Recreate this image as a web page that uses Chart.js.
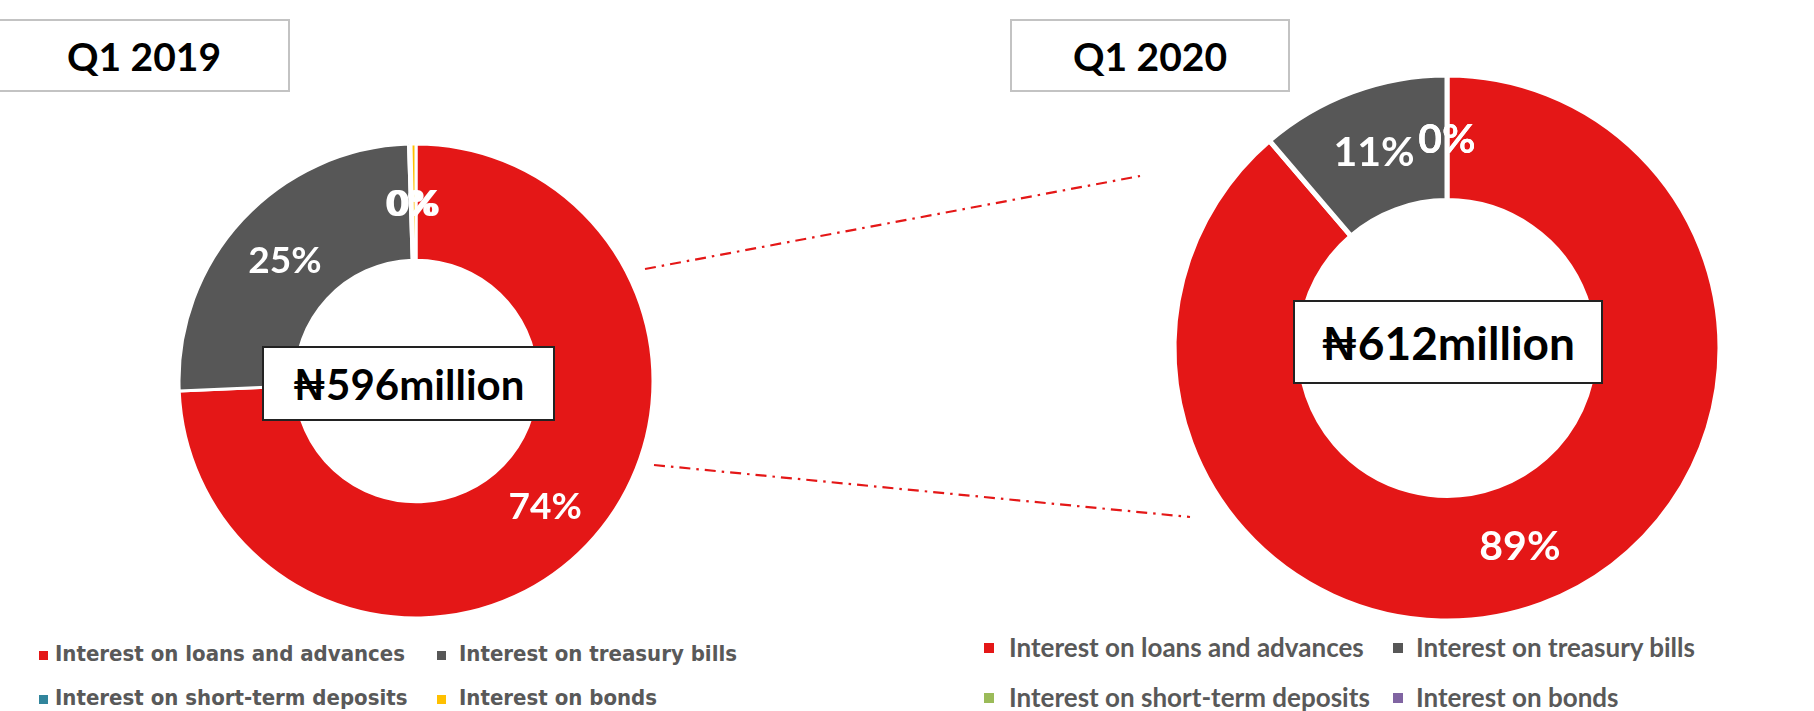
<!DOCTYPE html>
<html>
<head>
<meta charset="utf-8">
<title>Interest income breakdown, Q1 2019 vs Q1 2020</title>
<script src="https://cdn.jsdelivr.net/npm/chart.js@4.4.1/dist/chart.umd.min.js"></script>
<style>
  html, body { margin: 0; padding: 0; background: #ffffff; }
  body { width: 1814px; height: 711px; position: relative; overflow: hidden; font-family: Lato, "DejaVu Sans", sans-serif; }
  canvas { position: absolute; }
  .period { position: absolute; box-sizing: border-box; border: 2px solid #c3c3c3; background: #fff;
            display: flex; align-items: center; justify-content: center; color: #000;
            font: 700 39px Lato, "DejaVu Sans", sans-serif; }
  .total { position: absolute; box-sizing: border-box; border: 2px solid #222; background: #fff; z-index: 3;
           display: flex; align-items: center; justify-content: center; color: #000; font-weight: 700;
           font-family: Lato, "DejaVu Sans", sans-serif; }
  .lg-box { position: absolute; display: block; }
  .lg-text { position: absolute; color: #595959; font-weight: 700; white-space: nowrap; }
  svg.links { position: absolute; left: 0; top: 0; z-index: 2; }
</style>
</head>
<body>

<div class="period" style="left:-2px; top:19px; width:292px; height:73px;">Q1 2019</div>
<div class="period" style="left:1010px; top:19px; width:280px; height:73px;">Q1 2020</div>

<canvas id="donut2019" width="480" height="480" style="left:176px; top:141px;"></canvas>
<canvas id="donut2020" width="560" height="560" style="left:1167px; top:68px;"></canvas>

<div class="total" id="total2019" style="left:262px; top:346px; width:293px; height:75px; font-size:42px;"></div>
<div class="total" id="total2020" style="left:1293px; top:300px; width:310px; height:84px; font-size:46px;"></div>

<svg class="links" width="1814" height="711">
  <line x1="645" y1="269" x2="1140" y2="176" stroke="#e41717" stroke-width="2.2" stroke-dasharray="11 6 2.5 6"/>
  <line x1="654" y1="465" x2="1190" y2="517" stroke="#e41717" stroke-width="2.2" stroke-dasharray="11 6 2.5 6"/>
</svg>

<div id="legend2019"></div>
<div id="legend2020"></div>

<script>
// Income lines shown in both doughnuts
const categories = [
  'Interest on loans and advances',
  'Interest on treasury bills',
  'Interest on short-term deposits',
  'Interest on bonds'
];

// Interest income per line, in ₦ million
const q1_2019 = [443, 150, 1, 2];
const q1_2020 = [543, 69, 0, 0];

// Slice colours for each period
const colors2019 = ['#e41717', '#575757', '#31859c', '#ffc000'];
const colors2020 = ['#e41717', '#575757', '#9bbb59', '#8064a2'];

const sum = arr => arr.reduce((a, b) => a + b, 0);

// White percentage labels placed at the middle of every slice
const sliceLabels = {
  id: 'sliceLabels',
  afterDatasetsDraw(chart, args, opts) {
    const ctx = chart.ctx;
    const data = chart.data.datasets[0].data;
    const total = sum(data);
    const meta = chart.getDatasetMeta(0);
    ctx.save();
    ctx.font = `700 ${opts.size}px Lato, "DejaVu Sans", sans-serif`;
    ctx.fillStyle = '#ffffff';
    ctx.textAlign = 'center';
    ctx.textBaseline = 'middle';
    meta.data.forEach((arc, i) => {
      const p = arc.tooltipPosition();
      ctx.fillText(Math.round(data[i] / total * 100) + '%', p.x, p.y + (opts.dy || 0));
    });
    ctx.restore();
  }
};

function makeDonut(id, values, colors, radius, cutout, border, labelSize) {
  return new Chart(document.getElementById(id), {
    type: 'doughnut',
    data: {
      labels: categories,
      datasets: [{
        data: values,
        backgroundColor: colors,
        borderColor: '#ffffff',
        borderWidth: border,
        radius: radius,
        cutout: cutout
      }]
    },
    options: {
      responsive: false,
      animation: false,
      layout: { padding: 0 },
      plugins: {
        legend: { display: false },
        tooltip: { enabled: false },
        sliceLabels: { size: labelSize, dy: 2 }
      }
    },
    plugins: [sliceLabels]
  });
}

const chart2019 = makeDonut('donut2019', q1_2019, colors2019, 237, '51%', 3, 37);
const chart2020 = makeDonut('donut2020', q1_2020, colors2020, 273, '54%', 5, 41);

document.getElementById('total2019').textContent = '₦' + sum(q1_2019) + 'million';
document.getElementById('total2020').textContent = '₦' + sum(q1_2020) + 'million';

// Two-column legend built from each chart's own legend items
function htmlLegend(chart, hostId, layout) {
  const host = document.getElementById(hostId);
  const items = chart.options.plugins.legend.labels.generateLabels(chart);
  items.forEach((item, i) => {
    const col = i % 2, row = Math.floor(i / 2);
    const y = layout.rows[row];
    const box = document.createElement('span');
    box.className = 'lg-box';
    box.style.cssText = `left:${layout.boxX[col]}px; top:${y - layout.box / 2}px; width:${layout.box}px; height:${layout.box}px; background:${item.fillStyle};`;
    const txt = document.createElement('span');
    txt.className = 'lg-text';
    txt.textContent = item.text;
    txt.style.cssText = `left:${layout.textX[col]}px; top:${y - layout.size * 0.62}px; font-size:${layout.size}px; line-height:${layout.size * 1.2}px; font-family:${layout.font};`;
    host.appendChild(box);
    host.appendChild(txt);
  });
}

htmlLegend(chart2019, 'legend2019', {
  boxX: [39, 437], textX: [55, 459], rows: [655, 699], box: 9, size: 22,
  font: '"DejaVu Sans Condensed", "DejaVu Sans", sans-serif; font-stretch: condensed'
});
htmlLegend(chart2020, 'legend2020', {
  boxX: [984, 1393], textX: [1009, 1416], rows: [648, 698], box: 10, size: 26,
  font: 'Lato, "DejaVu Sans", sans-serif'
});
</script>
</body>
</html>
